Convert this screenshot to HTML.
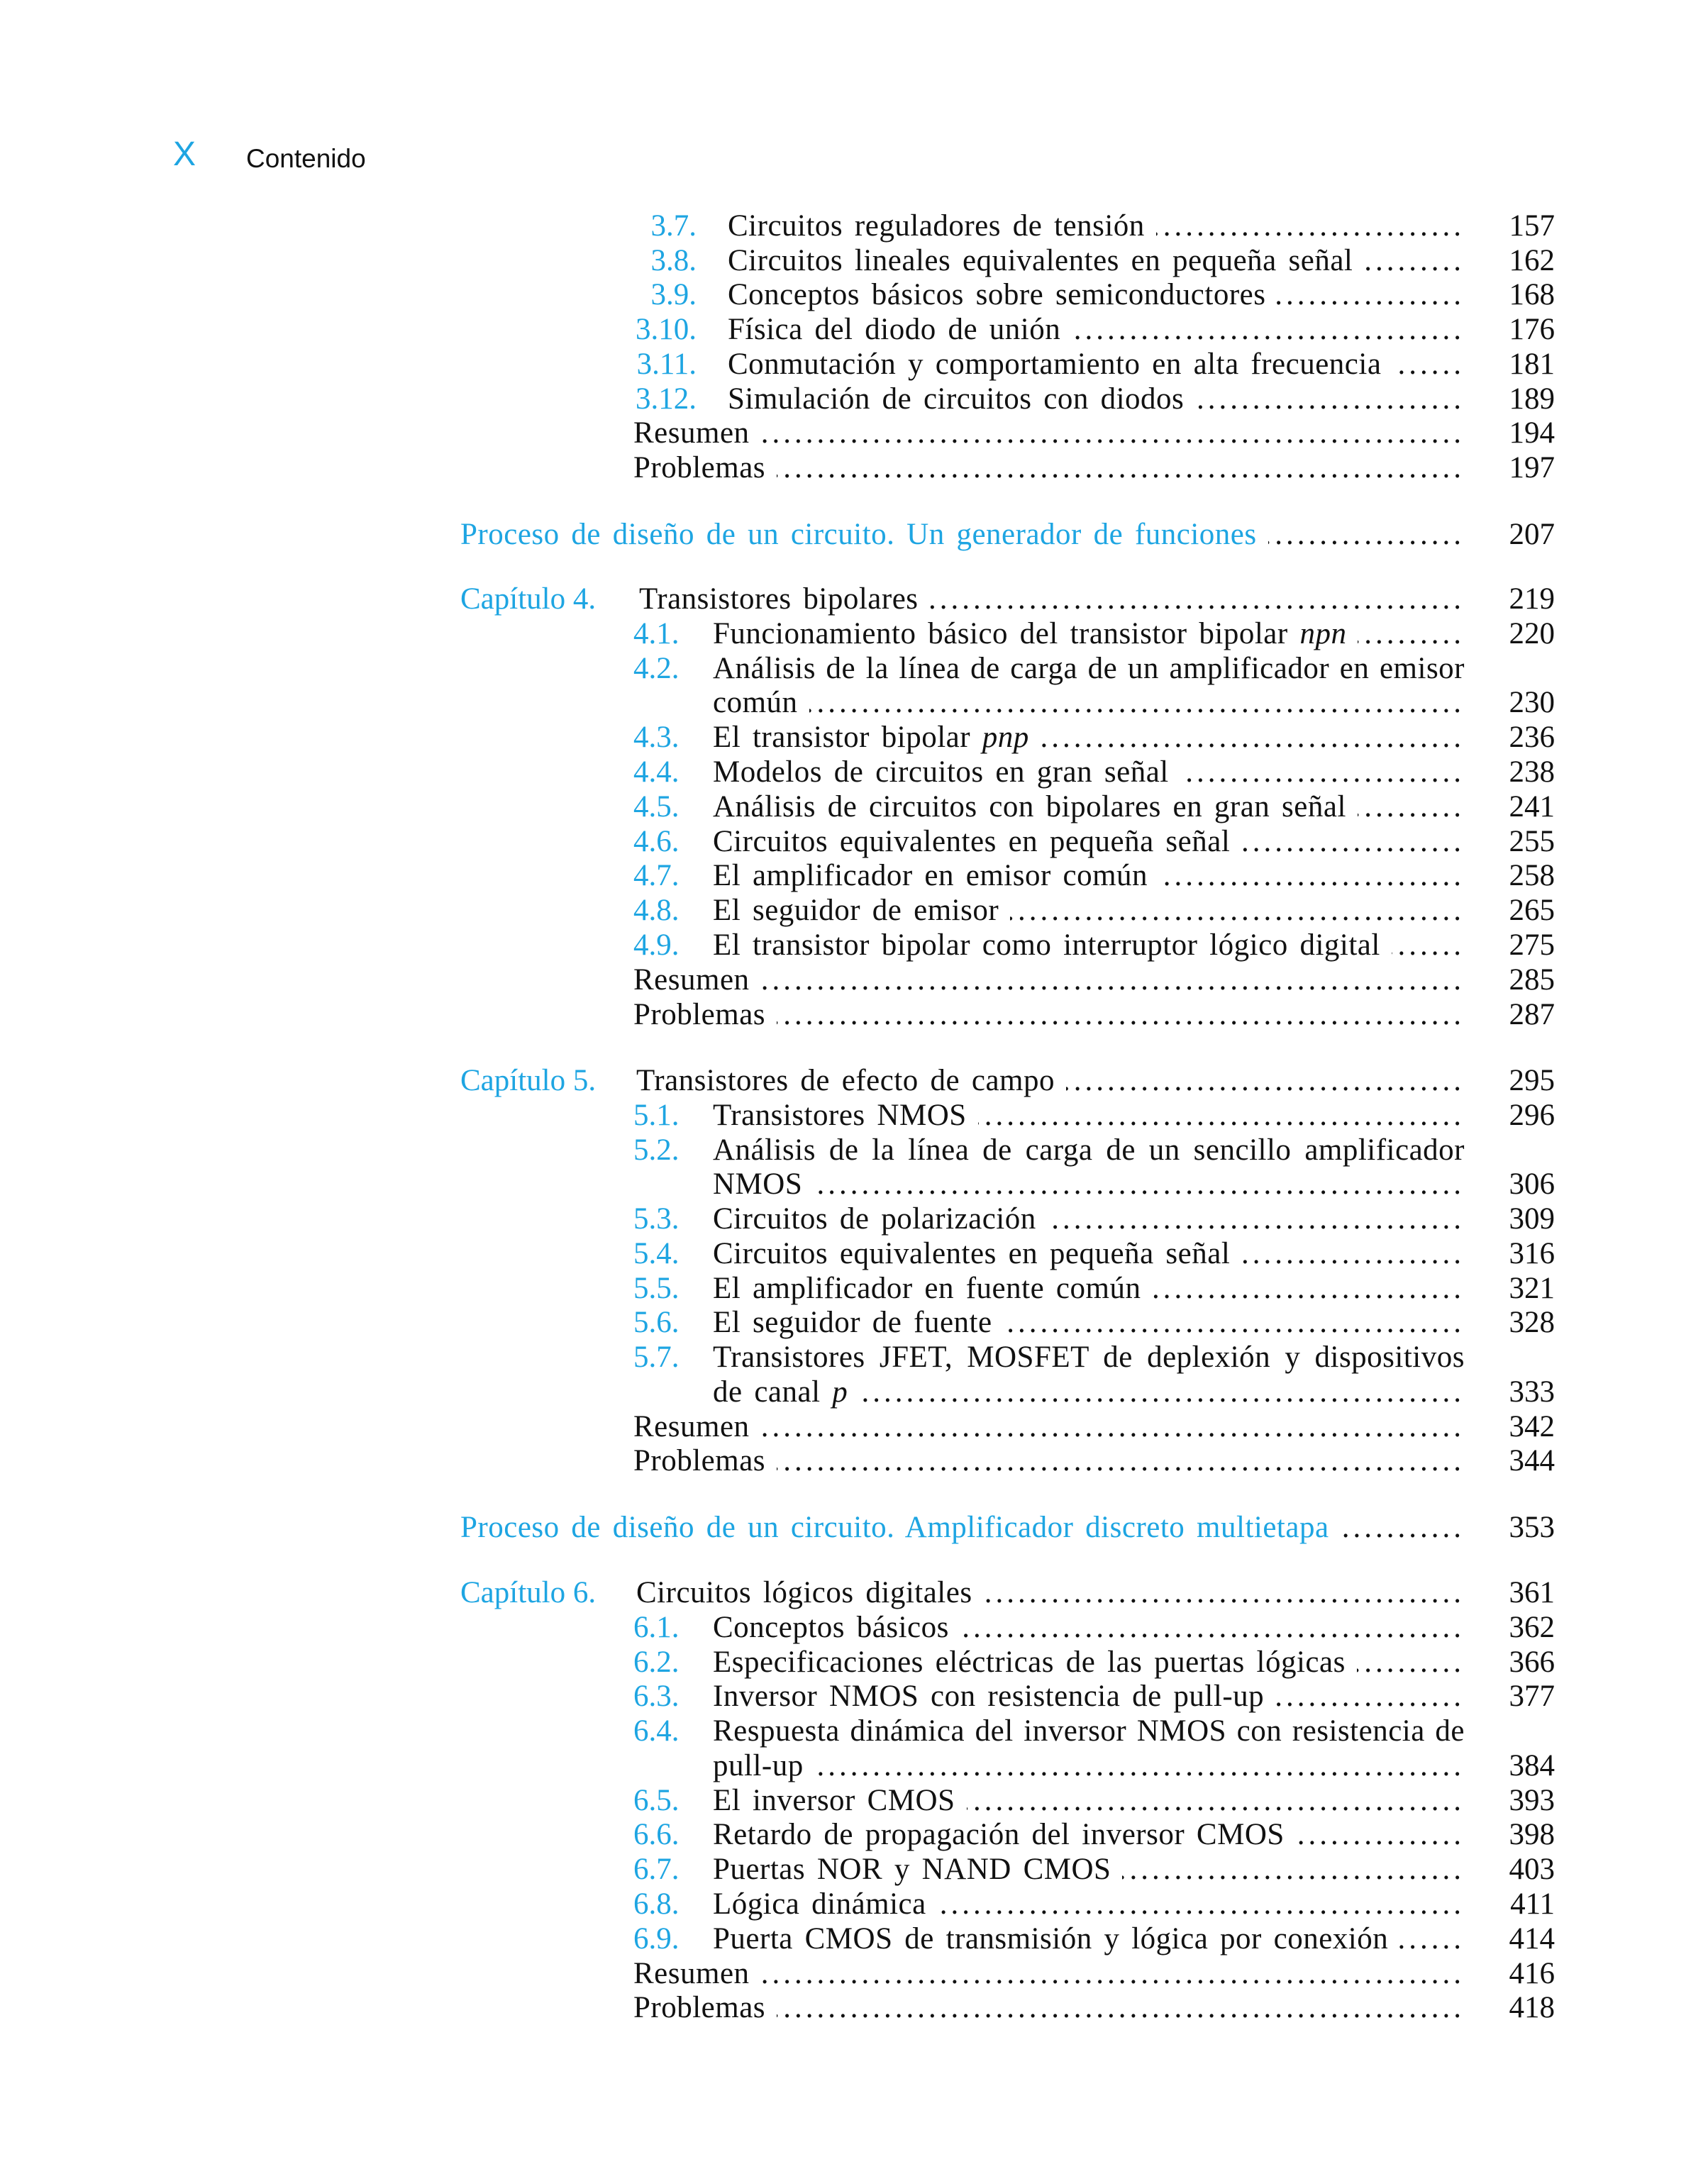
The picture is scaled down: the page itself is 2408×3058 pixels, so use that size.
<!DOCTYPE html>
<html><head><meta charset="utf-8"><style>
body{margin:0;background:#fff;}
#pg{position:relative;width:2408px;height:3058px;overflow:hidden;background:#fff;font-family:"Liberation Serif",serif;font-size:43px;color:#111;}
.r{position:absolute;left:0;width:2408px;height:48px;line-height:48px;white-space:nowrap;}
.b{color:#1ea5e2;}
.n{position:absolute;}
.na{right:1426px;text-align:right;}
.nb{left:893px;}
.t{position:absolute;right:343px;display:flex;}
.t > span:first-child{letter-spacing:0.5px;word-spacing:5.5px;}
.t .d{flex:1;overflow:hidden;direction:rtl;margin-left:16px;letter-spacing:5px;}
.p{position:absolute;right:216px;}
.j{position:absolute;left:1005px;right:343px;text-align:justify;text-align-last:justify;letter-spacing:0.5px;}
.ta{left:1026px}.tb{left:1005px}.tr{left:893px}.tc{left:901px}.tc5{left:897px}.tp{left:649px}
.cap{left:649px}
#hx{position:absolute;left:244px;top:190px;font-family:"Liberation Sans",sans-serif;font-size:48px;color:#1ea5e2;}
#hc{position:absolute;left:347px;top:203px;font-family:"Liberation Sans",sans-serif;font-size:37px;color:#111;}
</style></head><body><div id="pg">
<div id="hx">X</div><div id="hc">Contenido</div>
<script>
var D=".".repeat(200);
var rows=[
[295,'a','3.7.','Circuitos reguladores de tensión','157'],
[344,'a','3.8.','Circuitos lineales equivalentes en pequeña señal','162'],
[392,'a','3.9.','Conceptos básicos sobre semiconductores','168'],
[441,'a','3.10.','Física del diodo de unión','176'],
[490,'a','3.11.','Conmutación y comportamiento en alta frecuencia','181'],
[539,'a','3.12.','Simulación de circuitos con diodos','189'],
[587,'r','','Resumen','194'],
[636,'r','','Problemas','197'],
[730,'p','','Proceso de diseño de un circuito. Un generador de funciones','207'],
[821,'c','Capítulo 4.','Transistores bipolares','219','tc'],
[870,'b','4.1.','Funcionamiento básico del transistor bipolar <i>npn</i>','220'],
[919,'j','4.2.','Análisis de la línea de carga de un amplificador en emisor'],
[967,'k','','común','230'],
[1016,'b','4.3.','El transistor bipolar <i>pnp</i>','236'],
[1065,'b','4.4.','Modelos de circuitos en gran señal','238'],
[1114,'b','4.5.','Análisis de circuitos con bipolares en gran señal','241'],
[1163,'b','4.6.','Circuitos equivalentes en pequeña señal','255'],
[1211,'b','4.7.','El amplificador en emisor común','258'],
[1260,'b','4.8.','El seguidor de emisor','265'],
[1309,'b','4.9.','El transistor bipolar como interruptor lógico digital','275'],
[1358,'r','','Resumen','285'],
[1407,'r','','Problemas','287'],
[1500,'c','Capítulo 5.','Transistores de efecto de campo','295','tc5'],
[1549,'b','5.1.','Transistores NMOS','296'],
[1598,'j','5.2.','Análisis de la línea de carga de un sencillo amplificador'],
[1646,'k','','NMOS','306'],
[1695,'b','5.3.','Circuitos de polarización','309'],
[1744,'b','5.4.','Circuitos equivalentes en pequeña señal','316'],
[1793,'b','5.5.','El amplificador en fuente común','321'],
[1841,'b','5.6.','El seguidor de fuente','328'],
[1890,'j','5.7.','Transistores JFET, MOSFET de deplexión y dispositivos'],
[1939,'k','','de canal <i>p</i>','333'],
[1988,'r','','Resumen','342'],
[2036,'r','','Problemas','344'],
[2130,'p','','Proceso de diseño de un circuito. Amplificador discreto multietapa','353'],
[2222,'c','Capítulo 6.','Circuitos lógicos digitales','361','tc5'],
[2271,'b','6.1.','Conceptos básicos','362'],
[2320,'b','6.2.','Especificaciones eléctricas de las puertas lógicas','366'],
[2368,'b','6.3.','Inversor NMOS con resistencia de pull-up','377'],
[2417,'j','6.4.','Respuesta dinámica del inversor NMOS con resistencia de'],
[2466,'k','','pull-up','384'],
[2515,'b','6.5.','El inversor CMOS','393'],
[2563,'b','6.6.','Retardo de propagación del inversor CMOS','398'],
[2612,'b','6.7.','Puertas NOR y NAND CMOS','403'],
[2661,'b','6.8.','Lógica dinámica','411'],
[2710,'b','6.9.','Puerta CMOS de transmisión y lógica por conexión','414'],
[2759,'r','','Resumen','416'],
[2807,'r','','Problemas','418']
];
var h='';
rows.forEach(function(r){
 var y=r[0],k=r[1],n=r[2],t=r[3],p=r[4];
 h+='<div class="r" style="top:'+y+'px">';
 if(k=='j'){h+='<span class="n nb b">'+n+'</span><span class="j">'+t+'</span></div>';return;}
 var nc='',tc='',tcls='';
 if(k=='a'){nc='na';tc='ta';}
 else if(k=='b'){nc='nb';tc='tb';}
 else if(k=='k'){tc='tb';}
 else if(k=='r'){tc='tr';}
 else if(k=='p'){tc='tp';tcls=' b';}
 else if(k=='c'){nc='cap';tc=r[5];}
 if(n)h+='<span class="n '+nc+' b">'+n+'</span>';
 h+='<span class="t '+tc+'"><span class="'+tcls+'">'+t+'</span><span class="d">'+D+'</span></span>';
 h+='<span class="p">'+p+'</span></div>';
});
document.write(h);
</script>
</div></body></html>
